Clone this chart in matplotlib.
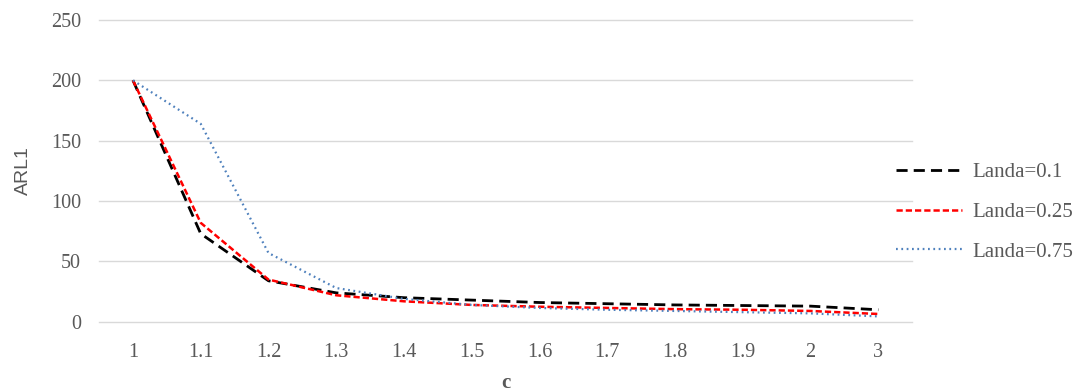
import matplotlib.pyplot as plt

c_labels = ["1", "1.1", "1.2", "1.3", "1.4", "1.5", "1.6", "1.7", "1.8", "1.9", "2", "3"]
landa_01 = [200, 73, 34, 24, 20, 18, 16, 15, 14, 13.5, 13, 10]
landa_025 = [200, 82, 35, 22, 17, 14, 12.5, 11.5, 10.5, 10, 9, 6.5]
landa_075 = [200, 164, 57, 28, 19, 14, 11.5, 10, 9, 8, 7, 4.5]

grey = "#595959"
serif = ["Liberation Serif", "DejaVu Serif"]

fig = plt.figure(figsize=(10.77, 3.92), dpi=100)
ax = fig.add_axes([0.092, 0.179, 0.755, 0.77])

x = list(range(len(c_labels)))
ax.plot(x, landa_01, color="black", lw=2.0, dashes=(4, 2.2), label="Landa=0.1")
ax.plot(x, landa_025, color="#ff0000", lw=1.8, dashes=(2.5, 1.2), label="Landa=0.25")
ax.plot(x, landa_075, color="#4f81bd", lw=1.6, dashes=(0.8, 1.6), label="Landa=0.75")

ax.set_xlim(-0.5, len(c_labels) - 0.5)
ax.set_ylim(0, 250)
ax.set_yticks(range(0, 251, 50))
ax.set_xticks(x)
ax.set_xticklabels(c_labels)
ax.grid(axis="y", color="#d9d9d9", lw=1)
for gl in ax.get_ygridlines():
    gl.set_clip_on(False)
ax.set_axisbelow(True)
for s in ax.spines.values():
    s.set_visible(False)
ax.tick_params(length=0, labelsize=14.5, colors=grey)
ax.tick_params(axis="y", pad=13)
ax.tick_params(axis="x", pad=15)
for lab in ax.get_xticklabels() + ax.get_yticklabels():
    lab.set_family(serif)

ax.set_xlabel("c", family=serif, fontsize=15, fontweight="bold", color=grey, labelpad=8)
ax.set_ylabel("ARL1", family=["Liberation Sans", "DejaVu Sans"], fontsize=14,
              color=grey, labelpad=14)

leg = fig.legend(loc="center left", bbox_to_anchor=(0.824, 0.459), frameon=False,
                 prop={"family": serif, "size": 15}, labelspacing=0.97,
                 handlelength=3.2, handletextpad=0.5, borderaxespad=0)
for t in leg.get_texts():
    t.set_color(grey)

plt.savefig("out.png", dpi=100)
